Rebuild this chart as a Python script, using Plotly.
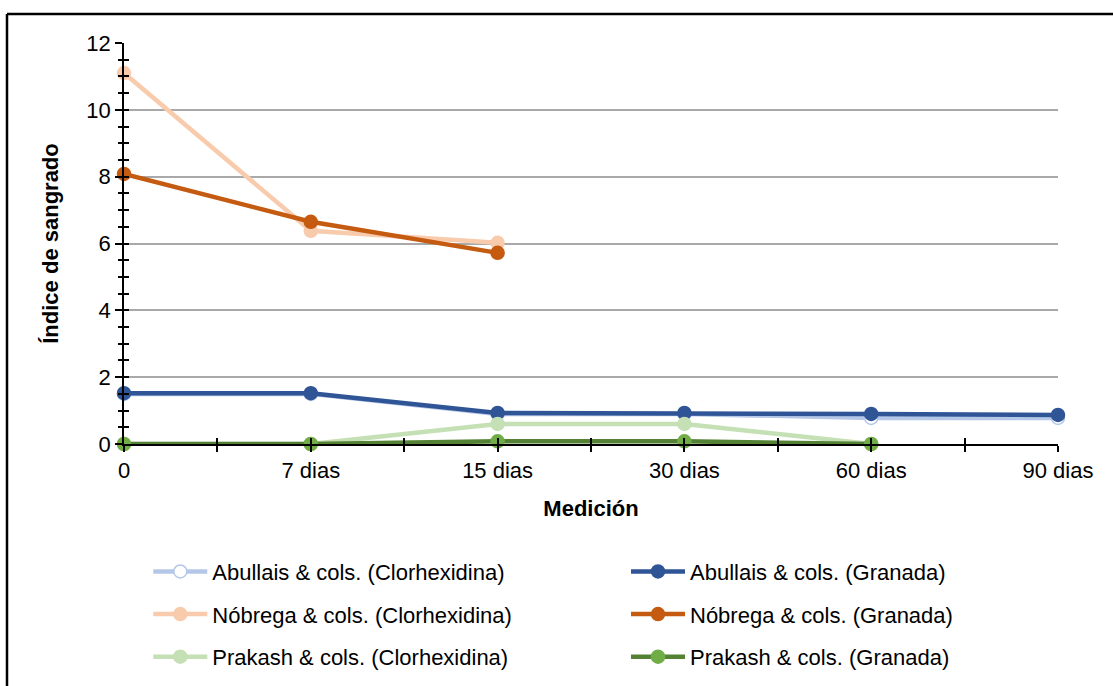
import plotly.graph_objects as go

categories = ["0", "7 dias", "15 dias", "30 dias", "60 dias", "90 dias"]

abullais_clor = [1.5, 1.5, 0.9, 0.9, 0.78, 0.78]
abullais_gran = [1.52, 1.52, 0.93, 0.93, 0.9, 0.87]
nobrega_clor = [11.1, 6.38, 6.02, None, None, None]
nobrega_gran = [8.08, 6.65, 5.72, None, None, None]
prakash_clor = [0.0, 0.0, 0.6, 0.6, 0.0, None]
prakash_gran = [0.0, 0.0, 0.08, 0.08, 0.0, None]

# name, values, line colour, marker fill, marker outline, legend column
series = [
    ("Abullais & cols. (Clorhexidina)", abullais_clor, "#B4C7E7", "white", "#B4C7E7", "legend"),
    ("Abullais & cols. (Granada)", abullais_gran, "#2F5597", "#2F5597", "#2F5597", "legend2"),
    ("Nóbrega & cols. (Clorhexidina)", nobrega_clor, "#F8CBAD", "#F8CBAD", "#F8CBAD", "legend"),
    ("Nóbrega & cols. (Granada)", nobrega_gran, "#C55A11", "#C55A11", "#C55A11", "legend2"),
    ("Prakash & cols. (Clorhexidina)", prakash_clor, "#C5E0B4", "#C5E0B4", "#C5E0B4", "legend"),
    ("Prakash & cols. (Granada)", prakash_gran, "#548235", "#70AD47", "#70AD47", "legend2"),
]

xpos = list(range(len(categories)))
FONT = "Liberation Sans, Arial, sans-serif"
FS = 22

fig = go.Figure()
for i, (name, vals, lc, mfill, mline, lg) in enumerate(series):
    fig.add_trace(go.Scatter(
        x=xpos, y=vals, name=name, mode="lines+markers",
        line=dict(color=lc, width=4.5),
        marker=dict(size=13, color=mfill, line=dict(color=mline, width=1.5)),
        connectgaps=False, legend=lg, legendgroup=f"g{i}", cliponaxis=False,
    ))

# dummy trace for overlay axes (crossing tick marks)
fig.add_trace(go.Scatter(x=[], y=[], xaxis="x2", yaxis="y2", showlegend=False, hoverinfo="skip"))

W, H = 1113, 686
L, R, T, B = 124, 55, 43, 242

leg_common = dict(
    orientation="v", yanchor="top", y=-0.266, xanchor="left",
    font=dict(size=FS), tracegroupgap=11, itemwidth=54,
    traceorder="grouped", bgcolor="rgba(0,0,0,0)",
)

fig.update_layout(
    width=W, height=H,
    margin=dict(l=L, r=R, t=T, b=B, autoexpand=False),
    paper_bgcolor="white", plot_bgcolor="white",
    font=dict(family=FONT, size=FS, color="black"),
    xaxis=dict(
        range=[0, 5], tickvals=xpos, ticktext=categories,
        showgrid=False, zeroline=False,
        showline=True, linecolor="black", linewidth=1.5,
        ticks="outside", ticklen=6, tickcolor="black", tickwidth=1.5,
        minor=dict(dtick=0.5, tick0=0, ticks="outside", ticklen=6, tickcolor="black", tickwidth=1.5),
        tickfont=dict(size=FS),
        title=dict(text="<b>Medición</b>", font=dict(size=FS), standoff=18),
    ),
    yaxis=dict(
        range=[0, 12], dtick=2, tick0=0,
        showgrid=True, gridcolor="#A9A9A9", gridwidth=1.5,
        zeroline=False,
        showline=True, linecolor="black", linewidth=1.5,
        ticks="outside", ticklen=7, tickcolor="black", tickwidth=1.5,
        minor=dict(dtick=0.5, tick0=0, ticks="outside", ticklen=4, tickcolor="black", tickwidth=1.5, showgrid=False),
        tickfont=dict(size=FS),
        title=dict(text="<b>Índice de sangrado</b>", font=dict(size=FS), standoff=22),
    ),
    xaxis2=dict(
        overlaying="x", anchor="y2", side="bottom", range=[0, 5],
        tickvals=[0.5 * i for i in range(11)], showticklabels=False,
        ticks="inside", ticklen=6, tickcolor="black", tickwidth=1.5,
        showgrid=False, zeroline=False, showline=False,
    ),
    yaxis2=dict(
        overlaying="y", anchor="x2", side="left", range=[0, 12],
        tickvals=[0.5 * i for i in range(25)], showticklabels=False,
        ticks="inside", ticklen=5, tickcolor="black", tickwidth=1.5,
        showgrid=False, zeroline=False, showline=False,
    ),
    legend=dict(x=0.026, **leg_common),
    legend2=dict(x=(626 - L) / (W - L - R), **leg_common),
    showlegend=True,
)

# outer chart border (frame)
pw = W - L - R
ph = H - T - B
fig.add_shape(type="line", xref="paper", yref="paper",
              x0=(7 - L) / pw, x1=(W + 5 - L) / pw,
              y0=(H - B - 14) / ph, y1=(H - B - 14) / ph,
              line=dict(color="black", width=2.5))
fig.add_shape(type="line", xref="paper", yref="paper",
              x0=(7 - L) / pw, x1=(7 - L) / pw,
              y0=(H - B - 14) / ph, y1=(H - B - H - 5) / ph,
              line=dict(color="black", width=2.5))

fig.write_html("out.html")
